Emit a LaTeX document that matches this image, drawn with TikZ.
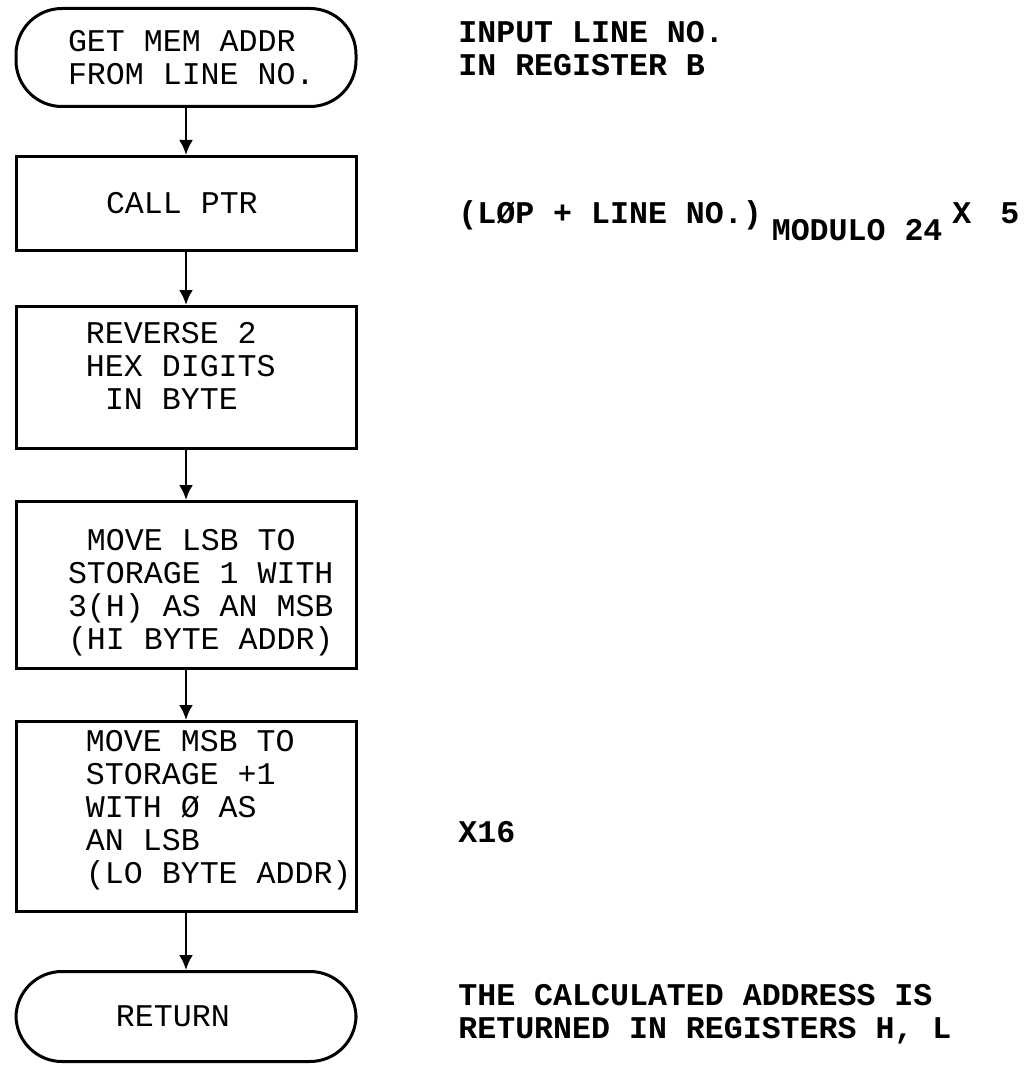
\documentclass[tikz,border=0pt]{standalone}
\usepackage{fontspec}
\newfontfamily\ttype{Liberation Mono}
\usepackage{tikz}
\usetikzlibrary{arrows.meta, positioning}
\tikzstyle{procBox} = [draw, rectangle, line width=1.5pt,
   minimum width=170pt, text width=170pt, inner xsep=0pt, align=left,
   font={\ttype\fontsize{15.8pt}{16.5pt}\selectfont}]
\tikzstyle{termBox} = [procBox, rounded corners=23pt]
% typewriter layout: fixed left margin, one full cell per space
\tikzstyle{indentBy} = [execute at begin node={\leftskip=#1\spaceskip=0pt\xspaceskip=0pt\relax}]
\tikzstyle{flowArrow} = [line width=1.3pt, -{Latex[length=7.5pt,width=7pt]}]
\tikzstyle{noteText} = [inner sep=0pt, anchor=base west, text width=330pt,
   align=left, indentBy=0pt,
   font={\ttype\bfseries\fontsize{15.8pt}{16.5pt}\selectfont}]

\begin{document}
\begin{tikzpicture}[x=0.5pt, y=-0.5pt]
  \useasboundingbox (0,0) rectangle (1029,1065);

  % flow chart
  \node[termBox, minimum height=49pt, indentBy=26pt] (start) at (186,57.5)
     {GET MEM ADDR\\FROM LINE NO.};
  \node[procBox, minimum height=47pt, indentBy=45pt, below=23.5pt of start] (ptr)
     {CALL PTR};
  \node[procBox, minimum height=71pt, indentBy=35pt, text depth=45pt,
     below=26.5pt of ptr] (rev)
     {REVERSE 2\\HEX DIGITS\\\hspace*{9.5pt}IN BYTE};
  \node[procBox, minimum height=83.5pt, indentBy=26pt, text height=18pt,
     below=25pt of rev] (lsb)
     {\hspace*{9.5pt}MOVE LSB TO\\STORAGE 1 WITH\\3(H) AS AN MSB\\(HI BYTE ADDR)};
  \node[procBox, minimum height=95pt, indentBy=35pt, text depth=76pt,
     below=25pt of lsb] (msb)
     {MOVE MSB TO\\STORAGE +1\\WITH Ø AS\\AN LSB\\(LO BYTE ADDR)};
  \node[termBox, minimum height=45pt, indentBy=50pt, below=28.5pt of msb] (ret)
     {RETURN};

  \draw[flowArrow] (start) -- (ptr);
  \draw[flowArrow] (ptr) -- (rev);
  \draw[flowArrow] (rev) -- (lsb);
  \draw[flowArrow] (lsb) -- (msb);
  \draw[flowArrow] (msb) -- (ret);

  % remarks on the right
  \node[noteText] (inNote) at (458,43) {INPUT LINE NO.\\IN REGISTER B};
  \node[noteText] (ptrNote) at (458,223)
     {(LØP + LINE NO.)\hspace{5pt}\raisebox{-8.5pt}{MODULO 24}\hspace{5pt}X\hspace{5pt} 5};
  \node[noteText] (mulNote) at (458,842) {X16};
  \node[noteText] (retNote) at (458,1005)
     {THE CALCULATED ADDRESS IS\\RETURNED IN REGISTERS H, L};
\end{tikzpicture}
\end{document}
